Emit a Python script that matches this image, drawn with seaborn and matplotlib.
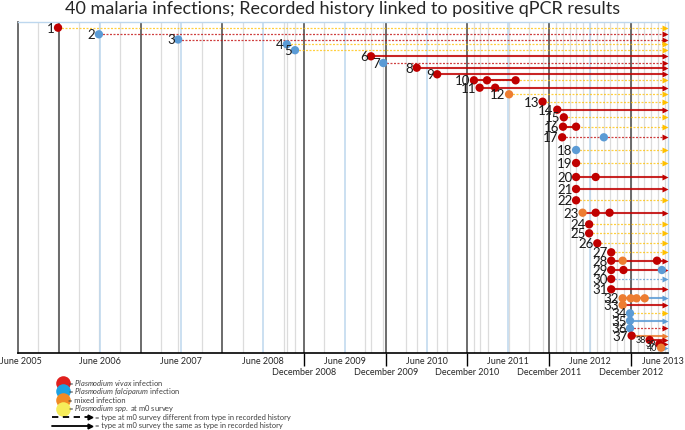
import numpy as np
import pandas as pd
import matplotlib.pyplot as plt
import seaborn as sns

# Chart data
title = "40 malaria infections; Recorded history linked to positive qPCR results"

row_ids = list(range(1, 41))

# vertical placement of each row (distance below the top edge of the plot area)
row_level = [5.7, 12.3, 17.5, 22.3, 28.2, 34.3, 41.0, 45.7, 52.3, 58.3,
             65.7, 72.3, 79.7, 87.7, 95.3, 104.7, 115.3, 128.0, 141.0, 155.0,
             167.0, 178.3, 190.7, 202.3, 211.3, 221.3, 230.3, 238.7, 248.0, 257.0,
             267.3, 276.3, 283.0, 291.3, 298.7, 306.3, 313.7, 318.0, 322.0, 325.7]

# dates (decimal years) of the recorded infections in each row
event_years = [
    [2005.99], [2006.49], [2007.46], [2008.79], [2008.89],
    [2009.82], [2009.97], [2010.38], [2010.63], [2011.08, 2011.24, 2011.59],
    [2011.15, 2011.34], [2011.51], [2011.92], [2012.10], [2012.18],
    [2012.17, 2012.33], [2012.16, 2012.67], [2012.33], [2012.33], [2012.33, 2012.57],
    [2012.33], [2012.33], [2012.41, 2012.57, 2012.74], [2012.49], [2012.49],
    [2012.59], [2012.76], [2012.76, 2012.90, 2013.32], [2012.76, 2012.91, 2013.38], [2012.76],
    [2012.76], [2012.90, 2013.00, 2013.07, 2013.17], [2012.90], [2012.99], [2012.99],
    [2012.99], [2013.01], [2013.23], [2013.35], [2013.37],
]

# V = P. vivax, F = P. falciparum, M = mixed
event_types = [
    ["V"], ["F"], ["F"], ["F"], ["F"],
    ["V"], ["F"], ["V"], ["V"], ["V", "V", "V"],
    ["V", "V"], ["M"], ["V"], ["V"], ["V"],
    ["V", "V"], ["V", "F"], ["F"], ["V"], ["V", "V"],
    ["V"], ["V"], ["M", "V", "V"], ["V"], ["V"],
    ["V"], ["V"], ["V", "M", "V"], ["V", "V", "F"], ["V"],
    ["V"], ["M", "M", "M", "M"], ["M"], ["F"], ["F"],
    ["F"], ["V"], ["V"], ["V"], ["M"],
]

# type found at m0 survey (Y = Plasmodium spp.)
m0_type = ["Y", "V", "V", "Y", "Y", "V", "V", "V", "V", "Y",
           "V", "Y", "Y", "V", "Y", "Y", "V", "Y", "Y", "V",
           "V", "Y", "V", "Y", "Y", "Y", "Y", "V", "V", "F",
           "V", "F", "V", "Y", "F", "V", "M", "V", "V", "F"]

# True = same type as in recorded history (solid), False = different (dashed)
m0_same = [False, False, False, False, False, True, False, True, True, False,
           True, False, False, True, False, False, False, False, False, True,
           True, False, True, False, False, False, False, True, True, False,
           True, True, True, False, True, False, True, True, True, True]

# rows whose recorded infections are joined by a solid segment
link_rows = {10: "V", 16: "V", 32: "M"}

june_years = list(range(2005, 2014))
december_years = list(range(2008, 2013))

x_start, x_end, arrow_end = 2005.5, 2013.455, 2013.42

dot_colours = {"V": "#C00000", "F": "#5B9BD5", "M": "#ED7D31"}
line_colours = {"V": "#C00000", "F": "#5B9BD5", "M": "#ED7D31", "Y": "#FFC000"}

# long table of events for seaborn
records = []
for rid, lvl, yrs, tps in zip(row_ids, row_level, event_years, event_types):
    for yr, tp in zip(yrs, tps):
        records.append({"row": rid, "level": lvl, "year": yr, "type": tp})
events = pd.DataFrame(records)

sns.set_style("white")
plt.rcParams["font.family"] = ["Lato", "DejaVu Sans"]
plt.rcParams["mathtext.fontset"] = "custom"
plt.rcParams["mathtext.rm"] = "Lato"
plt.rcParams["mathtext.it"] = "Lato:italic"

fig = plt.figure(figsize=(6.85, 4.30), dpi=100)
ax = fig.add_axes([18 / 685, 1 - 353 / 430, 650 / 685, 331 / 430])
ax.set_xlim(x_start, x_end)
ax.set_ylim(331, 0)

# vertical grid: quarters, months near the end, and infection dates
grey = "#DCDCDC"
for q in np.arange(2005.75, 2012.0, 0.5):
    ax.axvline(q, color=grey, lw=0.9, zorder=0.3)
for m in np.arange(2012 + 1 / 12, arrow_end, 1 / 12):
    ax.axvline(m, color=grey, lw=0.9, zorder=0.3)
for yrs in event_years:
    if yrs[0] < 2012:
        ax.axvline(yrs[0], color=grey, lw=0.9, zorder=0.3)
for yr in range(2006, 2013):
    ax.axvline(yr + 0.5, color="#BDD7EE", lw=1.1, zorder=0.4)
for yr in range(2006, 2014):
    ax.axvline(yr, color="#606060", lw=1.3, zorder=0.5)

# m0 arrows and history links
for rid, lvl, yrs, mt, same in zip(row_ids, row_level, event_years, m0_type, m0_same):
    c = line_colours[mt]
    if same:
        ax.plot([yrs[0], arrow_end], [lvl, lvl], color=c, lw=1.5, alpha=0.85,
                solid_capstyle="butt", zorder=2)
    else:
        ax.plot([yrs[0], arrow_end], [lvl, lvl], color=c, lw=0.9, alpha=0.75,
                ls=(0, (1.6, 1.2)), zorder=2)
    ax.plot(arrow_end, lvl, marker=">", ms=3.8, color=c, mec="none", zorder=3)
    if rid in link_rows:
        ax.plot([yrs[0], yrs[-1]], [lvl, lvl], color=dot_colours[link_rows[rid]],
                lw=1.5, alpha=0.9, zorder=2.5)

sns.scatterplot(data=events, x="year", y="level", hue="type", palette=dot_colours,
                s=36, linewidth=0, legend=False, ax=ax, zorder=5)

# row numbers
for rid, lvl, yrs in zip(row_ids, row_level, event_years):
    fs = 6.5 if rid >= 38 else 9.5
    ax.annotate(str(rid), (yrs[0], lvl), xytext=(-2.5, -0.6), textcoords="offset points",
                ha="right", va="center", fontsize=fs, color="#1a1a1a", zorder=6)

ax.set_xlabel("")
ax.set_ylabel("")
ax.set_yticks([])
ax.set_xticks([yr + 1 for yr in december_years])
ax.set_xticklabels([])
ax.tick_params(axis="x", length=9, width=1, color="black", direction="out", bottom=True)
for side in ["top", "right"]:
    ax.spines[side].set_color("#BDD7EE")
    ax.spines[side].set_linewidth(1)
ax.spines["left"].set_color("#606060")
ax.spines["left"].set_linewidth(1.3)
ax.spines["bottom"].set_color("black")
ax.spines["bottom"].set_linewidth(1.2)

xt = ax.get_xaxis_transform()
for yr in june_years:
    if yr == june_years[0]:
        ax.text(x_start - 0.215, -0.027, f"June {yr}", transform=xt, ha="left",
                va="center", fontsize=6.5, color="#262626", clip_on=False)
    elif yr == june_years[-1]:
        ax.text(x_end + 0.19, -0.027, f"June {yr}", transform=xt, ha="right",
                va="center", fontsize=6.5, color="#262626", clip_on=False)
    else:
        ax.text(yr + 0.5, -0.027, f"June {yr}", transform=xt, ha="center",
                va="center", fontsize=6.5, color="#262626")
for yr in december_years:
    ax.text(yr + 1, -0.06, f"December {yr}", transform=xt, ha="center",
            va="center", fontsize=6.5, color="#262626")

fig.text(0.5, 1 - 9 / 430, title, ha="center", va="center", fontsize=13, color="#262626")

# legend drawn in figure pixel space
lg = fig.add_axes([0, 0, 1, 1], facecolor="none")
lg.set_xlim(0, 685)
lg.set_ylim(430, 0)
lg.axis("off")
legend_items = [
    ("#E0201E", r"= $\mathit{Plasmodium\ vivax}$ infection"),
    ("#1BA1E2", r"= $\mathit{Plasmodium\ falciparum}$ infection"),
    ("#F08A24", "= mixed infection"),
    ("#F6EC5A", r"= $\mathit{Plasmodium\ spp.}$ at m0 survey"),
]
for i, (c, label) in enumerate(legend_items):
    y = 382.5 + i * 8.8
    lg.scatter(63, y, s=110, color=c, linewidth=0)
    lg.text(68, y, label, ha="left", va="center", fontsize=5.4, color="#404040")
for i, (ls, label) in enumerate([((0, (3.5, 2.5)), "= type at m0 survey different from type in recorded history"),
                                  ("-", "= type at m0 survey the same as type in recorded history")]):
    y = 417.3 + i * 8.4
    lg.plot([52, 88], [y, y], color="black", lw=1.3, ls=ls)
    lg.plot(90, y, marker=">", ms=3.5, color="black")
    lg.text(95, y, label, ha="left", va="center", fontsize=5.4, color="#404040")

fig.savefig("out.png", dpi=100)
